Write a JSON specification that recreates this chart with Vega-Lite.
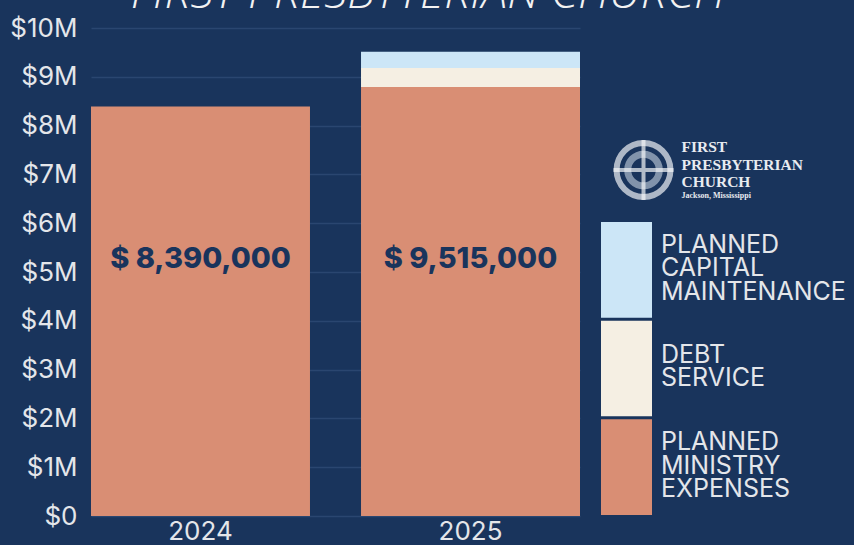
{
"$schema":"https://vega.github.io/schema/vega-lite/v6.json",
"width":489,"height":488,
"autosize":"none",
"padding":{"left":91,"top":28,"right":274,"bottom":29},
"background":"#19345c",
"title":{"text":"FIRST PRESBYTERIAN CHURCH","font":"Open Sans","fontStyle":"italic","fontWeight":300,"fontSize":46,"color":"#f2f2f2","anchor":"start","dx":121,"dy":43,"baseline":"alphabetic","limit":700},
"config":{"view":{"stroke":null}},
"datasets":{
"bars":[
{"year":"2024","category":"Planned Ministry Expenses","amount":8390000,"rank":1},
{"year":"2025","category":"Planned Ministry Expenses","amount":8790000,"rank":1},
{"year":"2025","category":"Debt Service","amount":390000,"rank":2},
{"year":"2025","category":"Planned Capital Maintenance","amount":335000,"rank":3}
],
"totals":[{"year":"2024","level":5260000,"label":"$ 8,390,000"},{"year":"2025","level":5260000,"label":"$ 9,515,000"}],
"logo":[
{"line":"FIRST","level":7560000,"size":15.5},
{"line":"PRESBYTERIAN","level":7190000,"size":15.5},
{"line":"CHURCH","level":6840000,"size":15.5},
{"line":"Jackson, Mississippi","level":6560000,"size":8}
],
"key":[
{"category":"Planned Capital Maintenance","label":"PLANNED\nCAPITAL\nMAINTENANCE","from":0,"to":1},
{"category":"Debt Service","label":"DEBT\nSERVICE","from":0,"to":1},
{"category":"Planned Ministry Expenses","label":"PLANNED\nMINISTRY\nEXPENSES","from":0,"to":1}
]
},
"resolve":{"scale":{"x":"independent","y":"independent"}},
"layer":[
{"layer":[
{"data":{"name":"bars"},"mark":{"type":"bar"},
"encoding":{
"x":{"field":"year","type":"nominal","scale":{"paddingInner":0.189,"paddingOuter":0},
"axis":{"title":null,"labelAngle":0,"labelFont":"Inter","labelFontSize":26,"labelColor":"#e4e6ea","labelPadding":2,"domain":false,"ticks":false,"grid":false}},
"y":{"field":"amount","type":"quantitative","stack":"zero","scale":{"domain":[0,10000000]},
"axis":{"title":null,"tickCount":10,"labelExpr":"datum.value==0?'$0':'$'+datum.value/1000000+'M'","labelFont":"Inter","labelFontSize":26,"labelColor":"#e4e6ea","labelPadding":14,"domain":false,"ticks":false,"grid":true,"gridColor":"#2a4670","gridWidth":1.5}},
"color":{"field":"category","type":"nominal","scale":{"domain":["Planned Capital Maintenance","Debt Service","Planned Ministry Expenses"],"range":["#cce6f7","#f5efe3","#d98e74"]},"legend":null},
"order":{"field":"rank","type":"ordinal"}
}},
{"data":{"name":"totals"},"mark":{"type":"text","font":"Inter","fontWeight":800,"fontSize":29,"color":"#19345c"},
"encoding":{"x":{"field":"year","type":"nominal"},"y":{"field":"level","type":"quantitative"},"text":{"field":"label"}}},
{"data":{"values":[{"year":"2025","level":7090000}]},"mark":{"type":"point","shape":"circle","size":2900,"filled":false,"stroke":"#eef1f5","strokeWidth":6,"xOffset":173},
"encoding":{"x":{"field":"year","type":"nominal"},"y":{"field":"level","type":"quantitative"}}},
{"data":{"values":[{"year":"2025","level":7090000}]},"mark":{"type":"point","shape":"circle","size":1000,"filled":false,"stroke":"#aebccd","strokeWidth":7,"xOffset":173},
"encoding":{"x":{"field":"year","type":"nominal"},"y":{"field":"level","type":"quantitative"}}},
{"data":{"values":[{"year":"2025","level":7090000}]},"mark":{"type":"point","shape":"M-1,0H1M0,-1V1","size":3600,"filled":false,"stroke":"#f4f6f8","strokeWidth":4,"xOffset":173},
"encoding":{"x":{"field":"year","type":"nominal"},"y":{"field":"level","type":"quantitative"}}},
{"data":{"name":"logo"},"mark":{"type":"text","font":"Liberation Serif","fontWeight":"bold","color":"#e8ebf0","align":"left","dx":211},
"encoding":{"x":{"datum":"2025","type":"nominal"},"y":{"field":"level","type":"quantitative"},"text":{"field":"line"},"size":{"field":"size","type":"quantitative","scale":null}}}
]},
{"data":{"name":"key"},"layer":[
{"mark":{"type":"bar"},"encoding":{
"y":{"field":"category","type":"nominal","sort":null,"axis":null,"scale":{"domain":["Planned Capital Maintenance","Debt Service","Planned Ministry Expenses"],"range":[194,487],"paddingInner":0.03,"paddingOuter":0}},
"x":{"field":"from","type":"quantitative","scale":{"domain":[0,1],"range":[510,561]},"axis":null},
"x2":{"field":"to"},
"color":{"field":"category","type":"nominal","legend":null}}},
{"transform":[{"filter":"datum.category != 'Debt Service'"}],"mark":{"type":"text","font":"Inter","fontSize":25,"lineHeight":23.5,"lineBreak":"\n","align":"left","baseline":"middle","color":"#e4e6ea","dx":9,"dy":-25},"encoding":{
"y":{"field":"category","type":"nominal","sort":null,"axis":null},
"x":{"field":"to","type":"quantitative","axis":null},
"text":{"field":"label"}}},
{"transform":[{"filter":"datum.category == 'Debt Service'"}],"mark":{"type":"text","font":"Inter","fontSize":25,"lineHeight":23.5,"lineBreak":"\n","align":"left","baseline":"middle","color":"#e4e6ea","dx":9,"dy":-14},"encoding":{
"y":{"field":"category","type":"nominal","sort":null,"axis":null},
"x":{"field":"to","type":"quantitative","axis":null},
"text":{"field":"label"}}}
]}
]
}
